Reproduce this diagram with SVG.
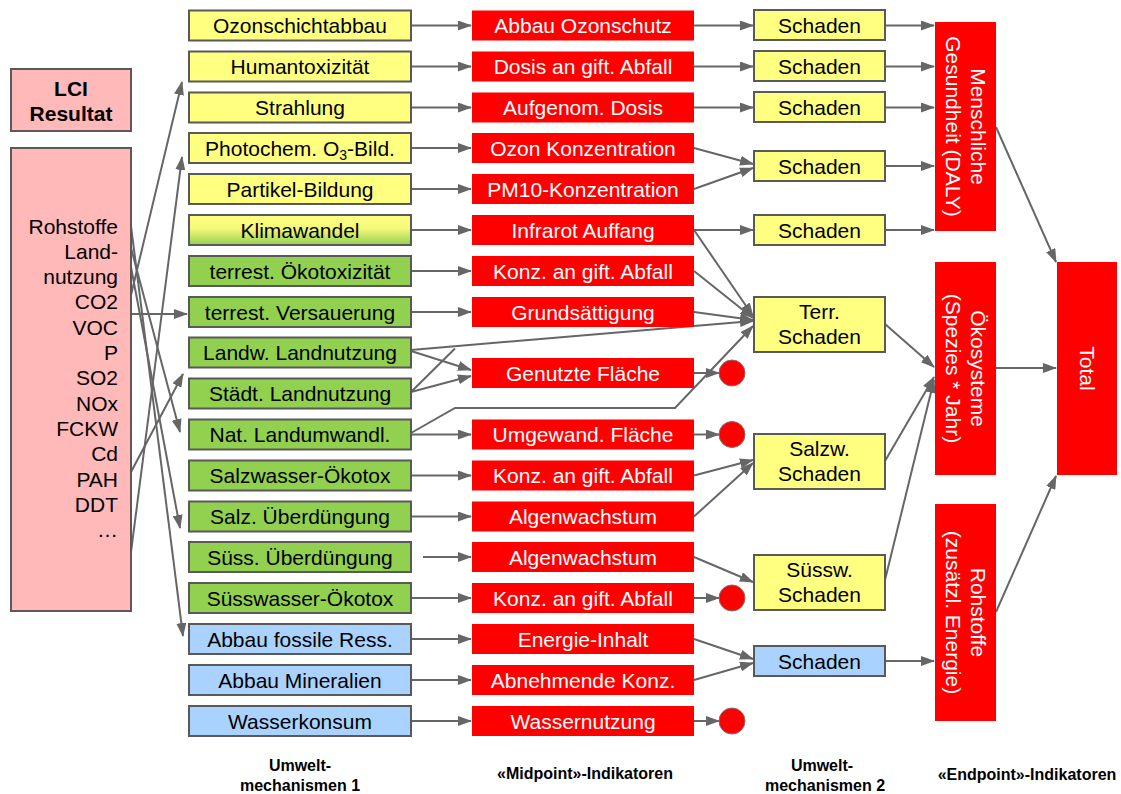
<svg xmlns="http://www.w3.org/2000/svg" width="1121" height="794" viewBox="0 0 1121 794">
<defs>
<style>
text{font-family:"Liberation Sans",Arial,sans-serif;font-size:21px;fill:#000}
.c{text-anchor:middle}
.w{fill:#fff}
.y{fill:#FFFF80;stroke:#595959;stroke-width:2}
.g{fill:#92D050;stroke:#595959;stroke-width:2}
.b{fill:#A9D2FF;stroke:#595959;stroke-width:2}
.p{fill:#FFB9B9;stroke:#595959;stroke-width:2}
.r{fill:#FF0000}
.dot{fill:#FF0000;stroke:#8a6a6a;stroke-width:1}
.lbl{font-weight:bold;font-size:16px;text-anchor:middle}
.cn line,.cn polyline{stroke:#666;stroke-width:2;fill:none;marker-end:url(#ah)}
.cn .nm{marker-end:none}
</style>
<marker id="ah" viewBox="0 0 14 10" refX="13" refY="5" markerWidth="14" markerHeight="10" markerUnits="userSpaceOnUse" orient="auto">
<path d="M0,0 L14,5 L0,10 z" fill="#666"/>
</marker>
<linearGradient id="klima" x1="0" y1="0" x2="0" y2="1">
<stop offset="0" stop-color="#FFFF80"/>
<stop offset="0.45" stop-color="#F4F97A"/>
<stop offset="1" stop-color="#92D050"/>
</linearGradient>
</defs>
<rect width="1121" height="794" fill="#fff"/>

<g class="cn" id="connectors">
<!-- LCI to mechanisms 1 -->
<line x1="131" y1="295" x2="182" y2="82"/>
<line x1="131" y1="552" x2="182" y2="157"/>
<line x1="131" y1="314" x2="187" y2="314"/>
<line x1="131" y1="472" x2="183" y2="374"/>
<line x1="131" y1="248" x2="180" y2="432"/>
<line x1="131" y1="267" x2="180" y2="528"/>
<line x1="131" y1="226" x2="183" y2="636"/>
<!-- mechanisms 1 to midpoint -->
<line x1="411" y1="25.5" x2="471" y2="25.5"/>
<line x1="411" y1="66.5" x2="471" y2="66.5"/>
<line x1="411" y1="107.5" x2="471" y2="107.5"/>
<line x1="411" y1="148" x2="471" y2="148"/>
<line x1="411" y1="189" x2="471" y2="189"/>
<line x1="411" y1="230" x2="471" y2="230"/>
<line x1="411" y1="271" x2="471" y2="271"/>
<line x1="411" y1="312" x2="471" y2="312"/>
<line x1="411" y1="351" x2="471" y2="370"/>
<line x1="411" y1="392" x2="471" y2="376"/>
<line x1="411" y1="350" x2="753" y2="321"/>
<line class="nm" x1="411" y1="392" x2="455" y2="348.5"/>
<polyline points="411,433 455,408 675,408 753,326"/>
<line x1="411" y1="434.5" x2="471" y2="434.5"/>
<line x1="411" y1="475.5" x2="471" y2="475.5"/>
<line x1="411" y1="516.5" x2="471" y2="516.5"/>
<line x1="423" y1="557" x2="471" y2="557"/>
<line x1="411" y1="598" x2="471" y2="598"/>
<line x1="411" y1="639" x2="471" y2="639"/>
<line x1="411" y1="680" x2="471" y2="680"/>
<line x1="411" y1="721" x2="471" y2="721"/>
<!-- midpoint to mechanisms 2 -->
<line x1="694" y1="25.5" x2="753" y2="25.5"/>
<line x1="694" y1="66.5" x2="753" y2="66.5"/>
<line x1="694" y1="107.5" x2="753" y2="107.5"/>
<line x1="694" y1="148" x2="753" y2="164"/>
<line x1="694" y1="189" x2="753" y2="168"/>
<line x1="694" y1="230" x2="753" y2="230"/>
<line x1="694" y1="230" x2="753" y2="316"/>
<line x1="694" y1="271" x2="753" y2="318"/>
<line x1="694" y1="312" x2="753" y2="320"/>
<line x1="694" y1="373" x2="719" y2="373"/>
<line x1="694" y1="434.5" x2="719" y2="434.5"/>
<line x1="694" y1="475.5" x2="753" y2="460"/>
<line x1="694" y1="516.5" x2="753" y2="463"/>
<line x1="694" y1="557" x2="753" y2="582"/>
<line x1="694" y1="598" x2="719" y2="598"/>
<line x1="694" y1="639" x2="753" y2="659"/>
<line x1="694" y1="680" x2="753" y2="663"/>
<line x1="694" y1="721" x2="719" y2="721"/>
<!-- mechanisms 2 to endpoint -->
<line x1="885" y1="25.5" x2="934" y2="25.5"/>
<line x1="885" y1="66.5" x2="934" y2="66.5"/>
<line x1="885" y1="107.5" x2="934" y2="107.5"/>
<line x1="885" y1="166" x2="934" y2="166"/>
<line x1="885" y1="230" x2="934" y2="230"/>
<line x1="885" y1="324" x2="934" y2="367"/>
<line x1="885" y1="461" x2="934" y2="377"/>
<line x1="885" y1="580" x2="934" y2="380"/>
<line x1="885" y1="661" x2="934" y2="661"/>
<!-- endpoint to total -->
<line x1="996" y1="127" x2="1056" y2="262"/>
<line x1="996" y1="368" x2="1056" y2="368"/>
<line x1="996" y1="612" x2="1056" y2="476"/>
</g>

<!-- LCI -->
<g id="lci-title"><rect class="p" x="11" y="69" width="120" height="62"/>
<text class="c" x="71" y="95.5" font-weight="bold">LCI</text><text class="c" x="71" y="121" font-weight="bold">Resultat</text></g>
<g id="lci-list"><rect class="p" x="11" y="148" width="120" height="463"/>
<g text-anchor="end">
<text x="118" y="233.5">Rohstoffe</text>
<text x="118" y="258.8">Land-</text>
<text x="118" y="284.1">nutzung</text>
<text x="118" y="309.4">CO2</text>
<text x="118" y="334.7">VOC</text>
<text x="118" y="360">P</text>
<text x="118" y="385.3">SO2</text>
<text x="118" y="410.6">NOx</text>
<text x="118" y="435.9">FCKW</text>
<text x="118" y="461.2">Cd</text>
<text x="118" y="486.5">PAH</text>
<text x="118" y="511.8">DDT</text>
<text x="118" y="537.1">…</text>
</g></g>

<!-- Umweltmechanismen 1 -->
<g id="m1-ozon"><rect class="y" x="189" y="10.5" width="222" height="30"/><text class="c" x="300" y="33">Ozonschichtabbau</text></g>
<g id="m1-human"><rect class="y" x="189" y="51.5" width="222" height="30"/><text class="c" x="300" y="74">Humantoxizität</text></g>
<g id="m1-strahl"><rect class="y" x="189" y="92.5" width="222" height="30"/><text class="c" x="300" y="115">Strahlung</text></g>
<g id="m1-photo"><rect class="y" x="189" y="133" width="222" height="30"/><text class="c" x="300" y="155.5">Photochem. O<tspan font-size="14" dy="4">3</tspan><tspan dy="-4">-Bild.</tspan></text></g>
<g id="m1-partikel"><rect class="y" x="189" y="174" width="222" height="30"/><text class="c" x="300" y="196.5">Partikel-Bildung</text></g>
<g id="m1-klima"><rect x="189" y="215" width="222" height="30" fill="url(#klima)" stroke="#595959" stroke-width="2"/><text class="c" x="300" y="237.5">Klimawandel</text></g>
<g id="m1-terroeko"><rect class="g" x="189" y="256" width="222" height="30"/><text class="c" x="300" y="278.5">terrest. Ökotoxizität</text></g>
<g id="m1-versauer"><rect class="g" x="189" y="297" width="222" height="30"/><text class="c" x="300" y="319.5">terrest. Versauerung</text></g>
<g id="m1-landw"><rect class="g" x="189" y="337.5" width="222" height="30"/><text class="c" x="300" y="360">Landw. Landnutzung</text></g>
<g id="m1-staedt"><rect class="g" x="189" y="378.5" width="222" height="30"/><text class="c" x="300" y="401">Städt. Landnutzung</text></g>
<g id="m1-nat"><rect class="g" x="189" y="419.5" width="222" height="30"/><text class="c" x="300" y="442">Nat. Landumwandl.</text></g>
<g id="m1-salzoeko"><rect class="g" x="189" y="460.5" width="222" height="30"/><text class="c" x="300" y="483">Salzwasser-Ökotox</text></g>
<g id="m1-salzue"><rect class="g" x="189" y="501.5" width="222" height="30"/><text class="c" x="300" y="524">Salz. Überdüngung</text></g>
<g id="m1-suessue"><rect class="g" x="189" y="542" width="222" height="30"/><text class="c" x="300" y="564.5">Süss. Überdüngung</text></g>
<g id="m1-suessoeko"><rect class="g" x="189" y="583" width="222" height="30"/><text class="c" x="300" y="605.5">Süsswasser-Ökotox</text></g>
<g id="m1-fossil"><rect class="b" x="189" y="624" width="222" height="30"/><text class="c" x="300" y="646.5">Abbau fossile Ress.</text></g>
<g id="m1-mineral"><rect class="b" x="189" y="665" width="222" height="30"/><text class="c" x="300" y="687.5">Abbau Mineralien</text></g>
<g id="m1-wasser"><rect class="b" x="189" y="706" width="222" height="30"/><text class="c" x="300" y="728.5">Wasserkonsum</text></g>

<!-- Midpoint -->
<g id="mp-ozonschutz"><rect class="r" x="472" y="10.5" width="222" height="30"/><text class="c w" x="583" y="33">Abbau Ozonschutz</text></g>
<g id="mp-dosis"><rect class="r" x="472" y="51.5" width="222" height="30"/><text class="c w" x="583" y="74">Dosis an gift. Abfall</text></g>
<g id="mp-aufgenom"><rect class="r" x="472" y="92.5" width="222" height="30"/><text class="c w" x="583" y="115">Aufgenom. Dosis</text></g>
<g id="mp-ozonkonz"><rect class="r" x="472" y="133" width="222" height="30"/><text class="c w" x="583" y="155.5">Ozon Konzentration</text></g>
<g id="mp-pm10"><rect class="r" x="472" y="174" width="222" height="30"/><text class="c w" x="583" y="196.5">PM10-Konzentration</text></g>
<g id="mp-infrarot"><rect class="r" x="472" y="215" width="222" height="30"/><text class="c w" x="583" y="237.5">Infrarot Auffang</text></g>
<g id="mp-konz1"><rect class="r" x="472" y="256" width="222" height="30"/><text class="c w" x="583" y="278.5">Konz. an gift. Abfall</text></g>
<g id="mp-grund"><rect class="r" x="472" y="297" width="222" height="30"/><text class="c w" x="583" y="319.5">Grundsättigung</text></g>
<g id="mp-genutzt"><rect class="r" x="472" y="358" width="222" height="30"/><text class="c w" x="583" y="380.5">Genutzte Fläche</text></g>
<g id="mp-umgewand"><rect class="r" x="472" y="419.5" width="222" height="30"/><text class="c w" x="583" y="442">Umgewand. Fläche</text></g>
<g id="mp-konz2"><rect class="r" x="472" y="460.5" width="222" height="30"/><text class="c w" x="583" y="483">Konz. an gift. Abfall</text></g>
<g id="mp-algen1"><rect class="r" x="472" y="501.5" width="222" height="30"/><text class="c w" x="583" y="524">Algenwachstum</text></g>
<g id="mp-algen2"><rect class="r" x="472" y="542" width="222" height="30"/><text class="c w" x="583" y="564.5">Algenwachstum</text></g>
<g id="mp-konz3"><rect class="r" x="472" y="583" width="222" height="30"/><text class="c w" x="583" y="605.5">Konz. an gift. Abfall</text></g>
<g id="mp-energie"><rect class="r" x="472" y="624" width="222" height="30"/><text class="c w" x="583" y="646.5">Energie-Inhalt</text></g>
<g id="mp-abnehm"><rect class="r" x="472" y="665" width="222" height="30"/><text class="c w" x="583" y="687.5">Abnehmende Konz.</text></g>
<g id="mp-wassernutz"><rect class="r" x="472" y="706" width="222" height="30"/><text class="c w" x="583" y="728.5">Wassernutzung</text></g>

<!-- dead ends -->
<g id="dot1"><circle class="dot" cx="732" cy="373" r="13"/></g>
<g id="dot2"><circle class="dot" cx="732" cy="434.5" r="13"/></g>
<g id="dot3"><circle class="dot" cx="732" cy="598" r="13"/></g>
<g id="dot4"><circle class="dot" cx="732" cy="721" r="13"/></g>

<!-- Umweltmechanismen 2 -->
<g id="m2-s1"><rect class="y" x="754" y="10" width="131" height="30"/><text class="c" x="819.5" y="32.5">Schaden</text></g>
<g id="m2-s2"><rect class="y" x="754" y="51" width="131" height="30"/><text class="c" x="819.5" y="73.5">Schaden</text></g>
<g id="m2-s3"><rect class="y" x="754" y="92" width="131" height="30"/><text class="c" x="819.5" y="114.5">Schaden</text></g>
<g id="m2-s4"><rect class="y" x="754" y="151" width="131" height="30"/><text class="c" x="819.5" y="173.5">Schaden</text></g>
<g id="m2-s5"><rect class="y" x="754" y="215" width="131" height="30"/><text class="c" x="819.5" y="237.5">Schaden</text></g>
<g id="m2-terr"><rect class="y" x="754" y="297" width="131" height="55"/><text class="c" x="819.5" y="319">Terr.</text><text class="c" x="819.5" y="344">Schaden</text></g>
<g id="m2-salzw"><rect class="y" x="754" y="434" width="131" height="55"/><text class="c" x="819.5" y="456">Salzw.</text><text class="c" x="819.5" y="481">Schaden</text></g>
<g id="m2-suessw"><rect class="y" x="754" y="555" width="131" height="55"/><text class="c" x="819.5" y="577">Süssw.</text><text class="c" x="819.5" y="602">Schaden</text></g>
<g id="m2-res"><rect class="b" x="754" y="646" width="131" height="30"/><text class="c" x="819.5" y="668.5">Schaden</text></g>

<!-- Endpoints -->
<g id="ep-gesundheit"><rect class="r" x="935" y="22" width="61" height="209"/>
<g transform="translate(965.5,126.5) rotate(90)"><text class="c w" x="0" y="-5">Menschliche</text><text class="c w" x="0" y="20">Gesundheit (DALY)</text></g></g>
<g id="ep-oeko"><rect class="r" x="935" y="262" width="61" height="213"/>
<g transform="translate(965.5,368.5) rotate(90)"><text class="c w" x="0" y="-5">Ökosysteme</text><text class="c w" x="0" y="20">(Spezies * Jahr)</text></g></g>
<g id="ep-rohstoffe"><rect class="r" x="935" y="504" width="61" height="217"/>
<g transform="translate(965.5,612.5) rotate(90)"><text class="c w" x="0" y="-5">Rohstoffe</text><text class="c w" x="0" y="20">(zusätzl. Energie)</text></g></g>
<g id="total"><rect class="r" x="1057" y="262" width="60" height="213"/>
<g transform="translate(1087,368.5) rotate(90)"><text class="c w" x="0" y="7.5">Total</text></g></g>

<!-- column labels -->
<g id="labels">
<text class="lbl" x="300" y="771">Umwelt-</text>
<text class="lbl" x="300" y="791">mechanismen 1</text>
<text class="lbl" x="585" y="779">«Midpoint»-Indikatoren</text>
<text class="lbl" x="822" y="771">Umwelt-</text>
<text class="lbl" x="825" y="791">mechanismen 2</text>
<text class="lbl" x="1027" y="780">«Endpoint»-Indikatoren</text>
</g>
</svg>
